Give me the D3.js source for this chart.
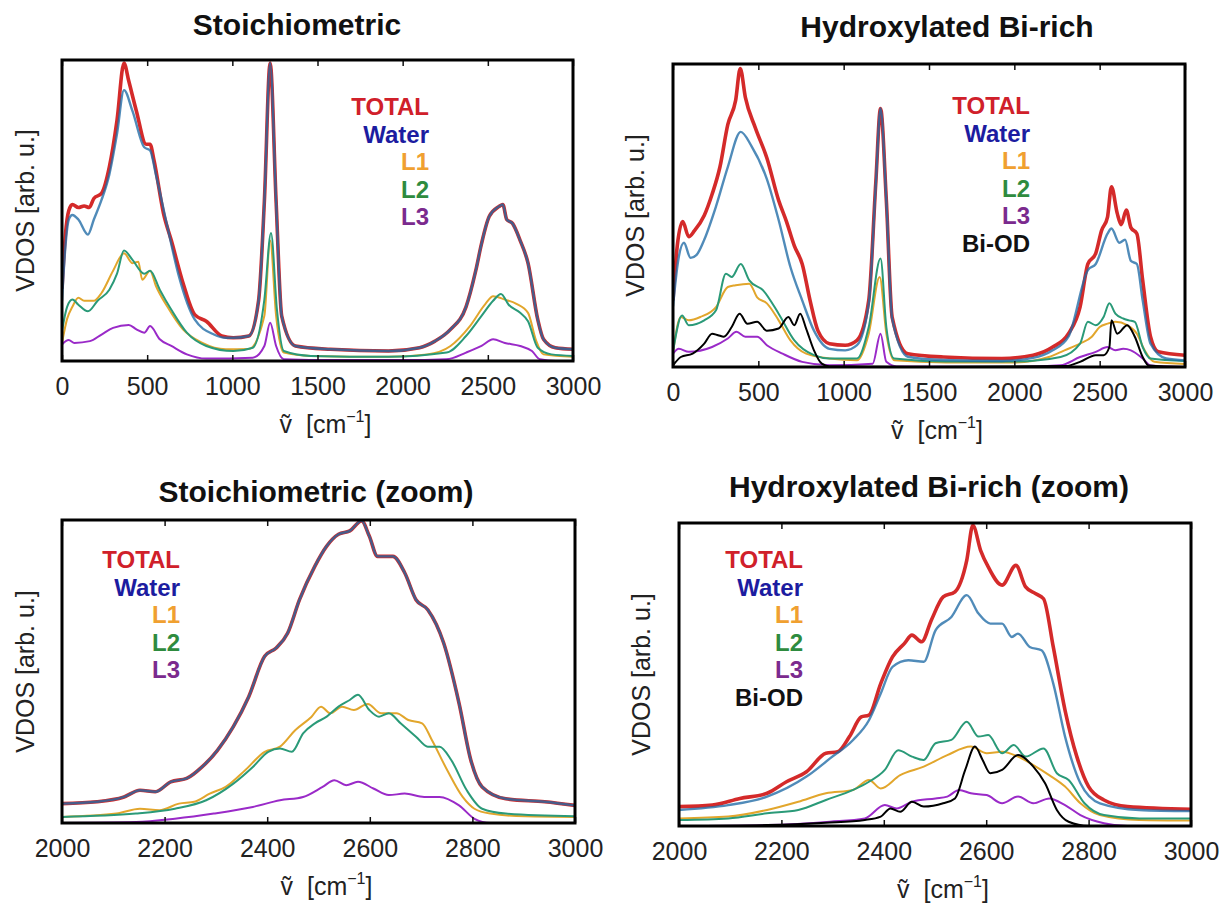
<!DOCTYPE html>
<html>
<head>
<meta charset="utf-8">
<script src="https://cdn.jsdelivr.net/npm/d3@7"></script>
<style>
  body { margin: 0; background: #fff; }
  text { font-family: "Liberation Sans", Arial, sans-serif; white-space: pre; }
</style>
</head>
<body>
<script>
// ---- data (x in cm-1, y in arb. units scaled to the frame height) ----
const legendNames = ['TOTAL', 'Water', 'L1', 'L2', 'L3', 'Bi-OD'];
const fullTicks = [0, 500, 1000, 1500, 2000, 2500, 3000];
const zoomTicks = [2000, 2200, 2400, 2600, 2800, 3000];

// Stoichiometric
const stoTotal = [[0,0.24],[20,0.42],[40,0.50],[61,0.52],[96,0.51],[130,0.515],[160,0.51],[187,0.54],[232,0.557],[278,0.645],[323,0.80],[364,0.99],[392,0.93],[437,0.83],[494,0.72],[517,0.72],[540,0.667],[596,0.49],[642,0.40],[710,0.26],[779,0.154],[847,0.132],[938,0.083],[1006,0.077],[1097,0.083],[1154,0.20],[1188,0.53],[1222,0.99],[1257,0.53],[1290,0.149],[1370,0.05],[1575,0.039],[1917,0.033],[2099,0.044],[2190,0.066],[2281,0.105],[2372,0.18],[2429,0.30],[2463,0.39],[2508,0.48],[2565,0.513],[2588,0.52],[2611,0.47],[2645,0.457],[2690,0.40],[2736,0.325],[2793,0.138],[2827,0.072],[2896,0.044],[3000,0.039]];
const stoWater = [[0,0.20],[20,0.38],[40,0.47],[61,0.485],[96,0.47],[152,0.42],[187,0.47],[232,0.535],[278,0.62],[323,0.755],[364,0.90],[414,0.83],[483,0.71],[517,0.70],[551,0.62],[619,0.446],[687,0.28],[779,0.138],[892,0.088],[960,0.077],[1006,0.077],[1097,0.083],[1154,0.20],[1188,0.53],[1222,0.99],[1257,0.53],[1290,0.149],[1370,0.05],[1575,0.039],[1917,0.033],[2099,0.044],[2190,0.066],[2281,0.105],[2372,0.18],[2429,0.30],[2463,0.39],[2508,0.48],[2565,0.513],[2588,0.52],[2611,0.47],[2645,0.457],[2690,0.40],[2736,0.325],[2793,0.138],[2827,0.072],[2896,0.044],[3000,0.039]];
const stoL1 = [[0,0.06],[30,0.14],[61,0.18],[96,0.21],[130,0.20],[187,0.20],[232,0.226],[300,0.30],[364,0.358],[414,0.325],[448,0.33],[471,0.27],[517,0.30],[551,0.25],[619,0.18],[710,0.105],[824,0.06],[960,0.039],[1097,0.04],[1188,0.15],[1222,0.40],[1257,0.15],[1302,0.028],[1461,0.017],[1917,0.014],[2144,0.022],[2281,0.05],[2395,0.116],[2486,0.19],[2531,0.215],[2600,0.204],[2668,0.19],[2736,0.16],[2782,0.07],[2827,0.022],[3000,0.014]];
const stoL2 = [[0,0.10],[30,0.18],[61,0.204],[96,0.187],[152,0.165],[209,0.20],[278,0.237],[323,0.29],[364,0.367],[414,0.336],[483,0.29],[517,0.30],[574,0.237],[642,0.17],[733,0.094],[847,0.05],[1006,0.033],[1120,0.044],[1188,0.204],[1227,0.425],[1262,0.17],[1302,0.033],[1461,0.017],[1917,0.014],[2258,0.028],[2372,0.083],[2463,0.15],[2531,0.20],[2577,0.223],[2622,0.187],[2690,0.16],[2736,0.132],[2793,0.044],[2873,0.022],[3000,0.017]];
const stoL3 = [[0,0.055],[39,0.07],[73,0.06],[164,0.066],[232,0.088],[300,0.11],[392,0.12],[437,0.105],[483,0.094],[517,0.116],[574,0.072],[642,0.05],[733,0.022],[847,0.008],[1120,0.011],[1188,0.05],[1222,0.127],[1257,0.05],[1302,0.006],[1600,0.003],[2000,0.003],[2258,0.006],[2372,0.028],[2463,0.05],[2531,0.072],[2600,0.06],[2690,0.05],[2759,0.033],[2805,0.006],[2900,0.0],[3000,0.0]];

// Hydroxylated Bi-rich
const hydTotal = [[0,0.22],[25,0.40],[57,0.48],[92,0.43],[126,0.45],[183,0.50],[229,0.57],[275,0.66],[321,0.80],[367,0.88],[394,0.985],[424,0.89],[482,0.79],[550,0.69],[619,0.55],[665,0.48],[711,0.40],[757,0.34],[803,0.22],[849,0.12],[917,0.077],[1009,0.072],[1078,0.088],[1147,0.22],[1188,0.606],[1216,0.853],[1250,0.55],[1284,0.165],[1376,0.044],[1583,0.033],[1927,0.028],[2110,0.039],[2225,0.066],[2317,0.11],[2385,0.198],[2431,0.34],[2477,0.375],[2511,0.45],[2546,0.495],[2569,0.595],[2603,0.507],[2626,0.47],[2656,0.518],[2683,0.46],[2718,0.44],[2752,0.286],[2798,0.10],[2844,0.05],[3000,0.039]];
const hydWater = [[0,0.20],[30,0.35],[64,0.41],[103,0.36],[138,0.37],[183,0.42],[252,0.53],[321,0.66],[397,0.776],[459,0.73],[550,0.62],[619,0.485],[688,0.33],[757,0.22],[826,0.12],[917,0.06],[1009,0.055],[1078,0.072],[1147,0.21],[1188,0.60],[1216,0.853],[1250,0.55],[1284,0.16],[1376,0.034],[1583,0.023],[1927,0.02],[2110,0.03],[2225,0.055],[2317,0.10],[2431,0.32],[2477,0.34],[2546,0.44],[2569,0.457],[2615,0.41],[2649,0.42],[2683,0.35],[2718,0.34],[2752,0.22],[2798,0.077],[2890,0.028],[3000,0.022]];
const hydL1 = [[0,0.05],[46,0.165],[92,0.154],[160,0.165],[252,0.198],[321,0.264],[367,0.27],[447,0.275],[493,0.23],[550,0.21],[619,0.154],[688,0.088],[780,0.044],[917,0.028],[1078,0.022],[1147,0.11],[1211,0.297],[1250,0.11],[1296,0.022],[1600,0.015],[2000,0.015],[2202,0.033],[2294,0.055],[2385,0.077],[2454,0.10],[2500,0.132],[2546,0.143],[2592,0.149],[2661,0.138],[2718,0.11],[2764,0.055],[2821,0.017],[3000,0.01]];
const hydL2 = [[0,0.05],[53,0.17],[92,0.138],[183,0.154],[252,0.187],[310,0.308],[344,0.297],[397,0.34],[447,0.286],[528,0.253],[619,0.176],[711,0.088],[826,0.039],[917,0.028],[1078,0.028],[1147,0.132],[1216,0.358],[1250,0.132],[1296,0.028],[1600,0.018],[2000,0.018],[2271,0.033],[2385,0.077],[2431,0.149],[2477,0.138],[2523,0.165],[2557,0.21],[2592,0.176],[2638,0.16],[2672,0.154],[2706,0.149],[2752,0.066],[2798,0.028],[3000,0.02]];
const hydL3 = [[0,0.044],[34,0.06],[92,0.05],[229,0.066],[321,0.094],[372,0.116],[424,0.10],[493,0.10],[550,0.072],[642,0.044],[757,0.017],[917,0.006],[1170,0.011],[1216,0.11],[1250,0.017],[1310,0.002],[2000,0.0],[2271,0.006],[2385,0.033],[2477,0.05],[2546,0.066],[2592,0.055],[2638,0.06],[2683,0.055],[2752,0.028],[2798,0.005],[3000,0.0]];
const hydBiOD = [[0,0.005],[46,0.033],[115,0.044],[183,0.077],[229,0.11],[264,0.105],[298,0.10],[344,0.132],[390,0.176],[436,0.143],[493,0.149],[550,0.12],[619,0.127],[676,0.165],[711,0.138],[745,0.176],[780,0.127],[826,0.055],[872,0.011],[920,0.002],[1500,0.0],[2300,0.003],[2385,0.017],[2477,0.039],[2523,0.039],[2557,0.066],[2569,0.154],[2603,0.11],[2661,0.138],[2706,0.10],[2752,0.033],[2787,0.005],[3000,0.0]];

// Stoichiometric (zoom)
const stoZoomTotal = [[2000,0.064],[2068,0.07],[2121,0.086],[2152,0.108],[2182,0.103],[2212,0.136],[2243,0.147],[2273,0.185],[2303,0.24],[2334,0.318],[2364,0.417],[2395,0.55],[2417,0.577],[2440,0.627],[2463,0.737],[2493,0.848],[2516,0.914],[2539,0.953],[2561,0.964],[2584,0.997],[2599,0.947],[2615,0.88],[2645,0.88],[2668,0.826],[2690,0.737],[2713,0.704],[2744,0.594],[2774,0.395],[2797,0.207],[2819,0.119],[2865,0.08],[2941,0.07],[3000,0.058]];
const stoZoomWater = stoZoomTotal; // the two curves coincide in this panel
const stoZoomL1 = [[2000,0.02],[2106,0.031],[2152,0.047],[2190,0.042],[2228,0.064],[2258,0.07],[2288,0.097],[2319,0.119],[2357,0.174],[2395,0.235],[2425,0.252],[2455,0.307],[2486,0.35],[2505,0.384],[2523,0.362],[2546,0.384],[2569,0.373],[2596,0.393],[2622,0.362],[2652,0.362],[2675,0.34],[2702,0.329],[2721,0.274],[2751,0.174],[2781,0.086],[2804,0.047],[2835,0.031],[2903,0.022],[3000,0.02]];
const stoZoomL2 = [[2000,0.02],[2144,0.031],[2220,0.047],[2281,0.075],[2334,0.13],[2372,0.185],[2402,0.235],[2425,0.246],[2448,0.235],[2470,0.296],[2493,0.329],[2516,0.351],[2539,0.384],[2561,0.406],[2577,0.423],[2599,0.373],[2618,0.351],[2637,0.362],[2660,0.329],[2690,0.285],[2713,0.252],[2736,0.252],[2759,0.207],[2789,0.108],[2819,0.047],[2865,0.031],[3000,0.022]];
const stoZoomL3 = [[2000,0.0],[2144,0.003],[2220,0.014],[2296,0.031],[2372,0.053],[2425,0.075],[2470,0.086],[2508,0.119],[2531,0.141],[2554,0.125],[2577,0.136],[2607,0.114],[2637,0.092],[2668,0.097],[2706,0.086],[2736,0.086],[2774,0.058],[2804,0.014],[2835,0.0],[3000,0.0]];

// Hydroxylated Bi-rich (zoom)
const hydZoomTotal = [[2000,0.064],[2065,0.069],[2119,0.091],[2172,0.108],[2210,0.146],[2249,0.179],[2287,0.24],[2310,0.245],[2333,0.295],[2356,0.36],[2371,0.366],[2394,0.47],[2417,0.558],[2440,0.602],[2455,0.63],[2474,0.608],[2493,0.68],[2516,0.756],[2539,0.773],[2562,0.877],[2574,0.992],[2589,0.91],[2604,0.855],[2631,0.795],[2658,0.86],[2677,0.789],[2696,0.767],[2712,0.75],[2731,0.591],[2754,0.382],[2777,0.229],[2800,0.13],[2830,0.086],[2876,0.064],[3000,0.055]];
const hydZoomWater = [[2000,0.053],[2096,0.069],[2172,0.097],[2249,0.163],[2295,0.223],[2340,0.284],[2371,0.349],[2394,0.437],[2417,0.525],[2448,0.547],[2478,0.542],[2501,0.646],[2532,0.69],[2562,0.762],[2585,0.701],[2608,0.668],[2631,0.668],[2650,0.624],[2662,0.635],[2685,0.591],[2708,0.58],[2731,0.47],[2754,0.295],[2784,0.141],[2822,0.075],[2899,0.053],[3000,0.049]];
const hydZoomL1 = [[2000,0.025],[2096,0.031],[2172,0.053],[2233,0.08],[2287,0.108],[2340,0.119],[2371,0.152],[2394,0.124],[2432,0.168],[2478,0.196],[2524,0.234],[2570,0.262],[2601,0.24],[2631,0.245],[2662,0.229],[2692,0.201],[2723,0.168],[2754,0.13],[2784,0.075],[2822,0.036],[2899,0.02],[3000,0.018]];
const hydZoomL2 = [[2000,0.02],[2096,0.025],[2172,0.042],[2233,0.053],[2287,0.086],[2340,0.119],[2371,0.146],[2402,0.185],[2428,0.25],[2455,0.229],[2478,0.218],[2501,0.273],[2532,0.284],[2562,0.344],[2585,0.295],[2604,0.30],[2631,0.24],[2654,0.267],[2677,0.229],[2712,0.256],[2738,0.174],[2761,0.152],[2792,0.075],[2830,0.036],[2899,0.025],[3000,0.025]];
const hydZoomL3 = [[2000,0.0],[2172,0.003],[2295,0.014],[2363,0.025],[2402,0.069],[2425,0.058],[2455,0.08],[2501,0.091],[2524,0.097],[2547,0.119],[2570,0.108],[2601,0.102],[2631,0.075],[2662,0.097],[2692,0.075],[2723,0.091],[2754,0.069],[2784,0.036],[2830,0.009],[2876,0.0],[3000,0.0]];
const hydZoomBiOD = [[2000,0.0],[2172,0.003],[2287,0.011],[2363,0.02],[2394,0.031],[2413,0.058],[2432,0.047],[2455,0.08],[2478,0.064],[2516,0.075],[2539,0.091],[2559,0.185],[2578,0.262],[2593,0.218],[2608,0.174],[2631,0.185],[2662,0.234],[2692,0.196],[2715,0.141],[2738,0.053],[2761,0.014],[2800,0.0],[3000,0.0]];

// ---- styles ----
const lineColor = { TOTAL: '#d42a2a', Water: '#1f6aa5', L1: '#e2a62c', L2: '#2a9a78', L3: '#9a2ac8', 'Bi-OD': '#000' };
const textColor = { TOTAL: '#d0202a', Water: '#1c1ca0', L1: '#f0a030', L2: '#2e8b3e', L3: '#7b2a8e', 'Bi-OD': '#111' };

const panels = [
  { title: 'Stoichiometric', tx: 297, ty: 35, box: [62, 60, 573, 361], domain: [0, 3000], ticks: fullTicks,
    legX: 429, legY: 115, ylabX: 34,
    series: { TOTAL: stoTotal, Water: stoWater, L1: stoL1, L2: stoL2, L3: stoL3 } },
  { title: 'Hydroxylated Bi-rich', tx: 947, ty: 37, box: [673, 64, 1185, 367], domain: [0, 3000], ticks: fullTicks,
    legX: 1030, legY: 114, ylabX: 644,
    series: { TOTAL: hydTotal, Water: hydWater, L1: hydL1, L2: hydL2, L3: hydL3, 'Bi-OD': hydBiOD } },
  { title: 'Stoichiometric (zoom)', tx: 316, ty: 502, box: [62, 520, 575, 823], domain: [2000, 3000], ticks: zoomTicks,
    legX: 180, legY: 568, ylabX: 34,
    series: { TOTAL: stoZoomTotal, Water: stoZoomWater, L1: stoZoomL1, L2: stoZoomL2, L3: stoZoomL3 } },
  { title: 'Hydroxylated Bi-rich (zoom)', tx: 929, ty: 497, box: [679, 523, 1191, 826], domain: [2000, 3000], ticks: zoomTicks,
    legX: 803, legY: 568, ylabX: 650,
    series: { TOTAL: hydZoomTotal, Water: hydZoomWater, L1: hydZoomL1, L2: hydZoomL2, L3: hydZoomL3, 'Bi-OD': hydZoomBiOD } }
];

const svg = d3.select('body').append('svg')
    .attr('width', 1225)
    .attr('height', 903);

// drawing order: layers first, then total, water on top
const drawOrder = ['L1', 'L2', 'L3', 'Bi-OD', 'TOTAL', 'Water'];

panels.forEach((p, i) => {
    const [x0, y0, x1, y1] = p.box;
    const x = d3.scaleLinear().domain(p.domain).range([x0, x1]);
    const y = d3.scaleLinear().domain([0, 1]).range([y1, y0]);

    const g = svg.append('g');

    svg.append('clipPath').attr('id', 'clip' + i)
      .append('rect').attr('x', x0).attr('y', y0).attr('width', x1 - x0).attr('height', y1 - y0);

    const line = d3.line()
        .x(d => x(d[0]))
        .y(d => y(d[1]))
        .curve(d3.curveMonotoneX);

    const lines = g.append('g').attr('clip-path', `url(#clip${i})`);
    drawOrder.forEach(name => {
        if (!p.series[name]) return;
        lines.append('path')
            .attr('d', line(p.series[name]))
            .attr('fill', 'none')
            .attr('stroke', lineColor[name])
            .attr('stroke-width', name == 'TOTAL' ? 3.6 : (name == 'Water' ? 2.4 : 2))
            .attr('stroke-opacity', name == 'Water' ? 0.78 : 1)
            .attr('stroke-linejoin', 'round');
    });

    // ticks inside the frame, bottom with labels, top mirrored
    const bottom = g.append('g')
        .attr('transform', `translate(0,${y1})`)
        .call(d3.axisBottom(x).tickValues(p.ticks).tickSize(-6).tickPadding(16).tickFormat(d3.format('d')));
    bottom.select('.domain').remove();
    bottom.selectAll('text')
        .style('font-size', '25px')
        .attr('fill', '#222');
    bottom.selectAll('line').attr('stroke', '#111').attr('stroke-width', 1.5);

    const top = g.append('g')
        .attr('transform', `translate(0,${y0})`)
        .call(d3.axisTop(x).tickValues(p.ticks).tickSize(-6).tickFormat(''));
    top.select('.domain').remove();
    top.selectAll('line').attr('stroke', '#111').attr('stroke-width', 1.5);

    // frame
    g.append('rect')
        .attr('x', x0).attr('y', y0)
        .attr('width', x1 - x0).attr('height', y1 - y0)
        .attr('fill', 'none')
        .attr('stroke', '#000')
        .attr('stroke-width', 3);

    // title
    g.append('text')
        .attr('x', p.tx).attr('y', p.ty)
        .attr('text-anchor', 'middle')
        .style('font-size', '30px')
        .style('font-weight', 'bold')
        .attr('fill', '#111')
        .text(p.title);

    // y label
    g.append('text')
        .attr('transform', `translate(${p.ylabX},${(y0 + y1) / 2}) rotate(-90)`)
        .attr('text-anchor', 'middle')
        .style('font-size', '25px')
        .attr('fill', '#222')
        .text('VDOS [arb. u.]');

    // x label (v with tilde, precomposed)
    const xl = g.append('text')
        .attr('x', (x0 + x1) / 2 + 8).attr('y', y1 + 72)
        .attr('text-anchor', 'middle')
        .style('font-size', '25px')
        .attr('fill', '#222');
    xl.append('tspan').text('\u1E7D  [cm');
    xl.append('tspan').attr('dy', -11).style('font-size', '16px').text('\u22121');
    xl.append('tspan').attr('dy', 11).text(']');

    // legend
    legendNames.filter(n => p.series[n]).forEach((n, k) => {
        g.append('text')
            .attr('x', p.legX)
            .attr('y', p.legY + k * 27.6)
            .attr('text-anchor', 'end')
            .style('font-size', '24px')
            .style('font-weight', 'bold')
            .attr('fill', textColor[n])
            .text(n);
    });
});
</script>
</body>
</html>
